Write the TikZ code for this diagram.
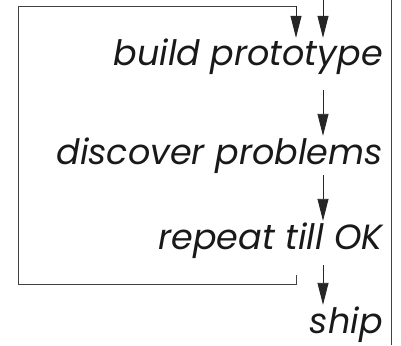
\documentclass[tikz,border=0pt]{standalone}
\usepackage{fontspec}
\setmainfont{Poppins}
\usetikzlibrary{arrows.meta}
\tikzset{
  lbl/.style={anchor=base east, inner sep=0pt, text height=28pt, text depth=8pt, font=\fontsize{35}{38}\selectfont\itshape, text=black!90},
  arr/.style={draw=black!85, line width=0.9pt, -{Triangle[length=22pt,width=11pt]}},
  ln/.style={draw=black!75, line width=0.9pt}
}
\begin{document}
\begin{tikzpicture}[x=1pt,y=-1pt]
\useasboundingbox (0,0) rectangle (401,345);
% right border line
\coordinate (rt) at (391,0);
\coordinate (rb) at (391,345);
\draw[ln] (rt) -- (rb);
% text nodes
\node[lbl] (build) at (383,66) {build prototype};
\node[lbl] (disc) at (383,164) {discover problems};
\node[lbl] (rep) at (383,249) {repeat till OK};
\node[lbl] (ship) at (383,333) {ship};
% main flow arrows
\coordinate (in) at (323,0);
\coordinate (s2) at (323,90);
\coordinate (s3) at (323,175);
\coordinate (s4) at (323,265);
\draw[arr] (in) -- (in |- build.north);
\draw[arr] (s2) -- (s2 |- disc.north);
\draw[arr] (s3) -- (s3 |- rep.north);
\draw[arr] (s4) -- (s4 |- ship.north);
% loop back
\coordinate (lb) at (296,275);
\coordinate (lp) at (18,284);
\coordinate (lt) at (18,6);
\draw[ln] (lb) -- (lb |- lp) -- (lp) -- (lt) -- (lt -| lb) -- (lb |- lt);
\draw[arr] (lt -| lb) -- (lb |- build.north);
\end{tikzpicture}
\end{document}
